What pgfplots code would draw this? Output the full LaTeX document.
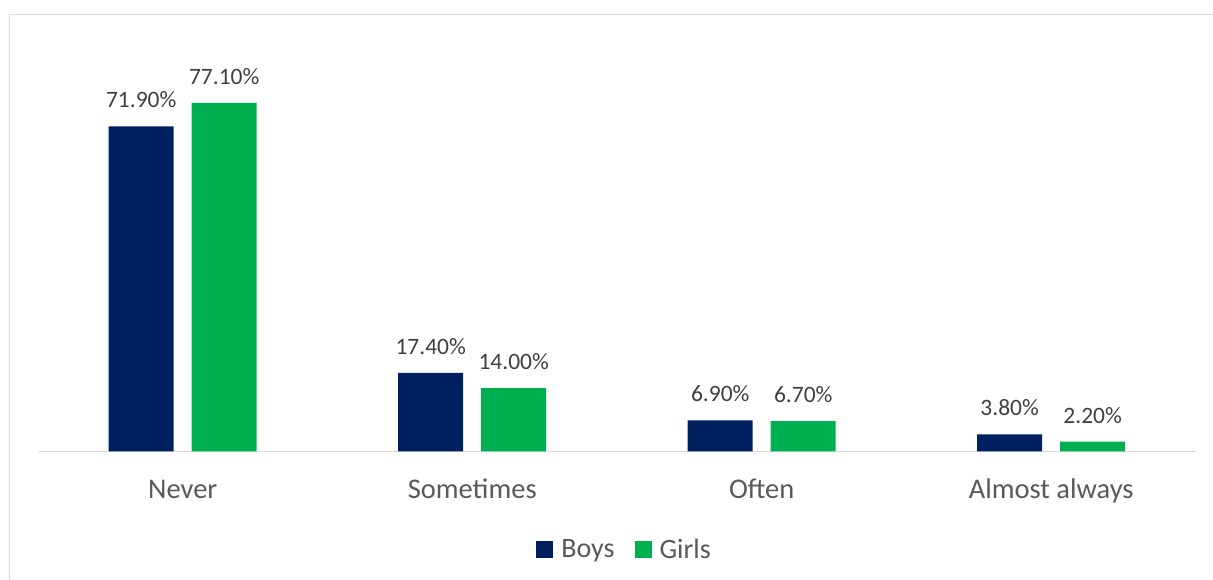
\documentclass[border=0pt]{standalone}
\usepackage{fontspec}
\setmainfont{Carlito}
\usepackage{pgfplots}
\pgfplotsset{compat=1.18}
\definecolor{boys}{HTML}{002060}
\definecolor{girls}{HTML}{00B050}
\definecolor{lbl}{HTML}{595959}
\definecolor{dlbl}{HTML}{404040}
\definecolor{frame}{HTML}{D9D9D9}
\pgfplotsset{sqleg/.style={legend image code/.code={\fill[##1] (0pt,-8.5pt) rectangle (17pt,8.5pt); \path (23pt,0pt);}}}
\begin{document}
\begin{tikzpicture}
\path[use as bounding box] (0,0) rectangle (1213pt,580pt);
\draw[frame, line width=1.5pt] (9.5pt,0pt) -- (9.5pt,565.5pt) -- (1213pt,565.5pt);
\begin{axis}[
  at={(38pt,128.5pt)}, anchor=south west,
  scale only axis, width=1158pt, height=361.8pt,
  xmin=-0.5, xmax=3.5, ymin=0, ymax=80,
  axis y line=none, axis x line*=bottom,
  x axis line style={frame, line width=1.5pt},
  xtick={0,1,2,3}, xticklabels={Never,Sometimes,Often,Almost always},
  ytick=\empty,
  major tick length=0pt,
  xticklabel style={font=\fontsize{28.5}{34}\selectfont, text=lbl, anchor=base, yshift=-47pt},
  ybar=18pt, bar width=65pt,
  nodes near coords={\pgfmathprintnumber[fixed,fixed zerofill,precision=2]{\pgfplotspointmeta}\%},
  every node near coord/.append style={font=\fontsize{23.5}{28}\selectfont, text=dlbl, anchor=base, yshift=18.5pt, inner sep=0pt},
  /pgf/number format/assume math mode=true,
  legend style={at={(0.5065,-0.271)}, anchor=center, draw=none, legend columns=-1,
    font=\fontsize{28}{34}\selectfont, text=lbl,
    /tikz/every even column/.append style={column sep=18pt}},
  clip=false,
]
\addplot[fill=boys, draw=none, sqleg]
  coordinates {(0,71.9) (1,17.4) (2,6.9) (3,3.8)};
\addplot[fill=girls, draw=none, sqleg]
  coordinates {(0,77.1) (1,14.0) (2,6.7) (3,2.2)};
\legend{Boys,Girls}
\end{axis}
\end{tikzpicture}
\end{document}
